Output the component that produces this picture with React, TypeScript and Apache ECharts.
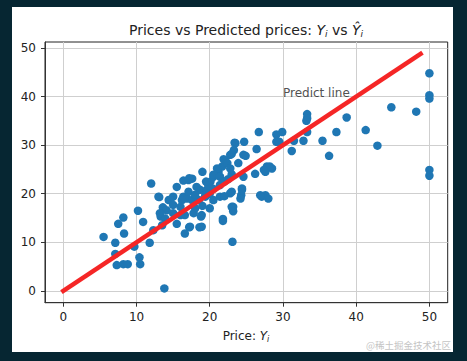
import React, { useEffect, useRef } from "react";
import * as echarts from "echarts";

// Tick values
const xTicks = [0, 10, 20, 30, 40, 50];
const yTicks = [0, 10, 20, 30, 40, 50];

const priceActual = [
  50, 50, 50, 44.8, 48.2, 38.7, 41.3, 42.9, 50, 50,
  33.3, 33.3, 33.2, 37.3, 35.4, 36.3, 32.8, 31.5, 31.2, 33.3, 29.9, 29.1, 29.1, 29.5, 26.7, 27.8, 28.5, 27.6, 27.6, 28.0, 27.1,
  24.7, 23.4, 26.4, 24.9, 26.2, 28.2, 24.4, 24.3, 23.2, 23.2, 21.8, 23.1, 18.9, 18.9,
  5.5, 7.5, 8.2, 8.3, 7.1, 7.1, 7.3, 8.2, 8.8, 9.7, 10.2, 10.4, 10.5, 10.9, 11.8, 13.8, 12.3, 13.3, 13.5, 13.9, 15.5, 16.6, 17.2, 18.6, 21.8,
  12.0, 13.1, 15.5, 17.1, 17.6, 19.0, 13.6, 14.4, 15.0, 16.4, 16.9, 14.1, 15.0, 16.0, 16.6, 17.8, 18.5, 18.7, 18.8, 19.6, 20.1, 20.5, 21.2, 21.7, 22.1, 22.8, 23.5, 23.3, 23.0, 23.0, 20.5, 21.4, 18.2, 16.4, 17.2, 17.1, 13.0, 14.6, 13.2, 15.0, 16.2, 16.0, 17.3, 18.0, 19.4, 17.6,
  23.0, 24.6, 21.9, 22.4, 23.9, 21.0, 22.8, 20.5, 21.4, 24.6, 27.4, 19.8, 21.4, 22.8, 24.4, 19.4, 24.2, 26.9, 20.0, 19.0, 20.0, 22.0, 22.5, 23.0, 20.5, 19.5, 22.0, 18.0
];
const pricePredicted = [
  44.8, 40.3, 39.6, 37.8, 36.9, 35.7, 33.1, 29.9, 24.9, 23.7,
  36.4, 35.5, 35.0, 32.7, 30.9, 27.8, 30.9, 30.9, 28.8, 32.7, 32.7, 32.2, 30.7, 30.7, 32.7, 25.6, 25.2, 24.5, 19.7, 19.0, 19.4,
  30.7, 30.5, 29.2, 27.8, 24.1, 25.6, 21.1, 19.7, 17.3, 16.4, 14.8, 10.1, 15.6, 13.2,
  11.1, 13.8, 15.1, 11.8, 9.9, 7.6, 5.3, 5.5, 5.5, 9.1, 16.5, 6.9, 5.5, 14.2, 9.9, 0.5, 12.5, 15.3, 13.5, 14.9, 13.8, 11.8, 13.1, 13.1, 14.4,
  22.1, 19.3, 21.4, 22.8, 23.1, 24.5, 17.2, 18.7, 19.4, 19.4, 19.0, 16.6, 16.0, 17.3, 15.6, 16.0, 18.7, 20.8, 15.3, 20.8, 22.5, 23.5, 24.5, 25.6, 26.9, 28.0, 30.4, 29.0, 20.4, 17.3, 18.7, 19.4, 21.4, 22.7, 23.2, 20.4, 19.4, 18.7, 16.0, 17.7, 18.7, 15.6, 13.2, 17.0, 19.4, 18.7,
  28.2, 28.0, 27.1, 26.3, 26.3, 25.2, 25.2, 23.9, 23.5, 23.5, 24.9, 21.8, 21.8, 20.1, 20.8, 19.7, 19.0, 19.7, 20.0, 17.5, 17.0, 22.5, 23.0, 24.0, 21.0, 22.5, 19.5, 19.8
];

// Predict line endpoints
const lineX = [0, 48.8];
const lineY = [0, 48.8];

// Annotation
const annotationPoint = [30, 40];
const annotationText = "Predict line";

export default function App() {
  const ref = useRef<HTMLDivElement>(null);

  useEffect(() => {
    if (!ref.current) return;
    const chart = echarts.init(ref.current, undefined, { renderer: "svg" });
    const scatterData = priceActual.map((x, i) => [x, pricePredicted[i]]);
    const lineData = lineX.map((x, i) => [x, lineY[i]]);
    const font = "'DejaVu Sans', sans-serif";
    chart.setOption({
      animation: false,
      backgroundColor: "#ffffff",
      grid: {
        left: 33,
        top: 35,
        right: 5.3,
        bottom: 49.3,
        show: true,
        borderColor: "#222",
        borderWidth: 1,
        backgroundColor: "transparent",
      },
      xAxis: {
        type: "value",
        min: -2.5,
        max: 52.5,
        axisLine: { show: true, onZero: false, lineStyle: { color: "#333", width: 1 } },
        axisTick: { show: true, inside: false, length: 4, customValues: xTicks, lineStyle: { color: "#333" } },
        axisLabel: { customValues: xTicks, margin: 8, color: "#222", fontSize: 12, fontFamily: font },
        splitLine: { show: true, lineStyle: { color: "#cfcfcf", width: 1 } },
      },
      yAxis: {
        type: "value",
        min: -2.44,
        max: 51.24,
        axisLine: { show: true, onZero: false, lineStyle: { color: "#333", width: 1 } },
        axisTick: { show: true, inside: false, length: 4, customValues: yTicks, lineStyle: { color: "#333" } },
        axisLabel: { customValues: yTicks, margin: 9, color: "#222", fontSize: 12, fontFamily: font },
        splitLine: { show: true, lineStyle: { color: "#cfcfcf", width: 1 } },
      },
      series: [
        {
          type: "scatter",
          data: scatterData,
          symbol: "circle",
          symbolSize: 8.5,
          itemStyle: { color: "#1f77b4", opacity: 1 },
          z: 2,
        },
        {
          type: "line",
          data: lineData,
          showSymbol: false,
          symbol: "none",
          lineStyle: { color: "#f52626", width: 4.5, cap: "square" },
          z: 3,
        },
        {
          type: "scatter",
          data: [annotationPoint],
          symbolSize: 0,
          silent: true,
          label: {
            show: true,
            formatter: annotationText,
            position: [0, 0],
            align: "left",
            verticalAlign: "bottom",
            offset: [0, 2],
            color: "#222",
            fontSize: 12,
            fontFamily: font,
          },
          z: 4,
        },
      ],
      graphic: [
        {
          type: "text",
          x: 234,
          y: 23,
          style: {
            text: "Prices vs Predicted prices: {i|Y}{s|i} vs {i|Ŷ}{s|i}",
            align: "center",
            verticalAlign: "middle",
            fontSize: 14,
            fontFamily: font,
            fill: "#222",
            lineHeight: 17,
            rich: {
              i: { fontSize: 14, fontStyle: "italic", fontFamily: font, fill: "#222", lineHeight: 17 },
              s: { fontSize: 9, fontStyle: "italic", fontFamily: font, fill: "#222", verticalAlign: "bottom" },
            },
          },
        },
        {
          type: "text",
          x: 234,
          y: 329,
          style: {
            text: "Price: {i|Y}{s|i}",
            align: "center",
            verticalAlign: "middle",
            fontSize: 12,
            fontFamily: font,
            fill: "#222",
            lineHeight: 15,
            rich: {
              i: { fontSize: 12, fontStyle: "italic", fontFamily: font, fill: "#222", lineHeight: 15 },
              s: { fontSize: 8, fontStyle: "italic", fontFamily: font, fill: "#222", verticalAlign: "bottom" },
            },
          },
        },
        {
          type: "text",
          x: 439,
          y: 338,
          style: {
            text: "@稀土掘金技术社区",
            align: "right",
            verticalAlign: "middle",
            fontSize: 9.5,
            fontFamily: "'Noto Sans CJK SC', sans-serif",
            fill: "#c4c4c4",
          },
        },
      ],
    });
    return () => chart.dispose();
  }, []);

  return (
    <div
      style={{
        position: "fixed",
        left: 0,
        top: 0,
        width: 467,
        height: 361,
        background: "#062632",
      }}
    >
      <div
        ref={ref}
        style={{ position: "absolute", left: 12, top: 7, width: 441, height: 345 }}
      />
    </div>
  );
}
